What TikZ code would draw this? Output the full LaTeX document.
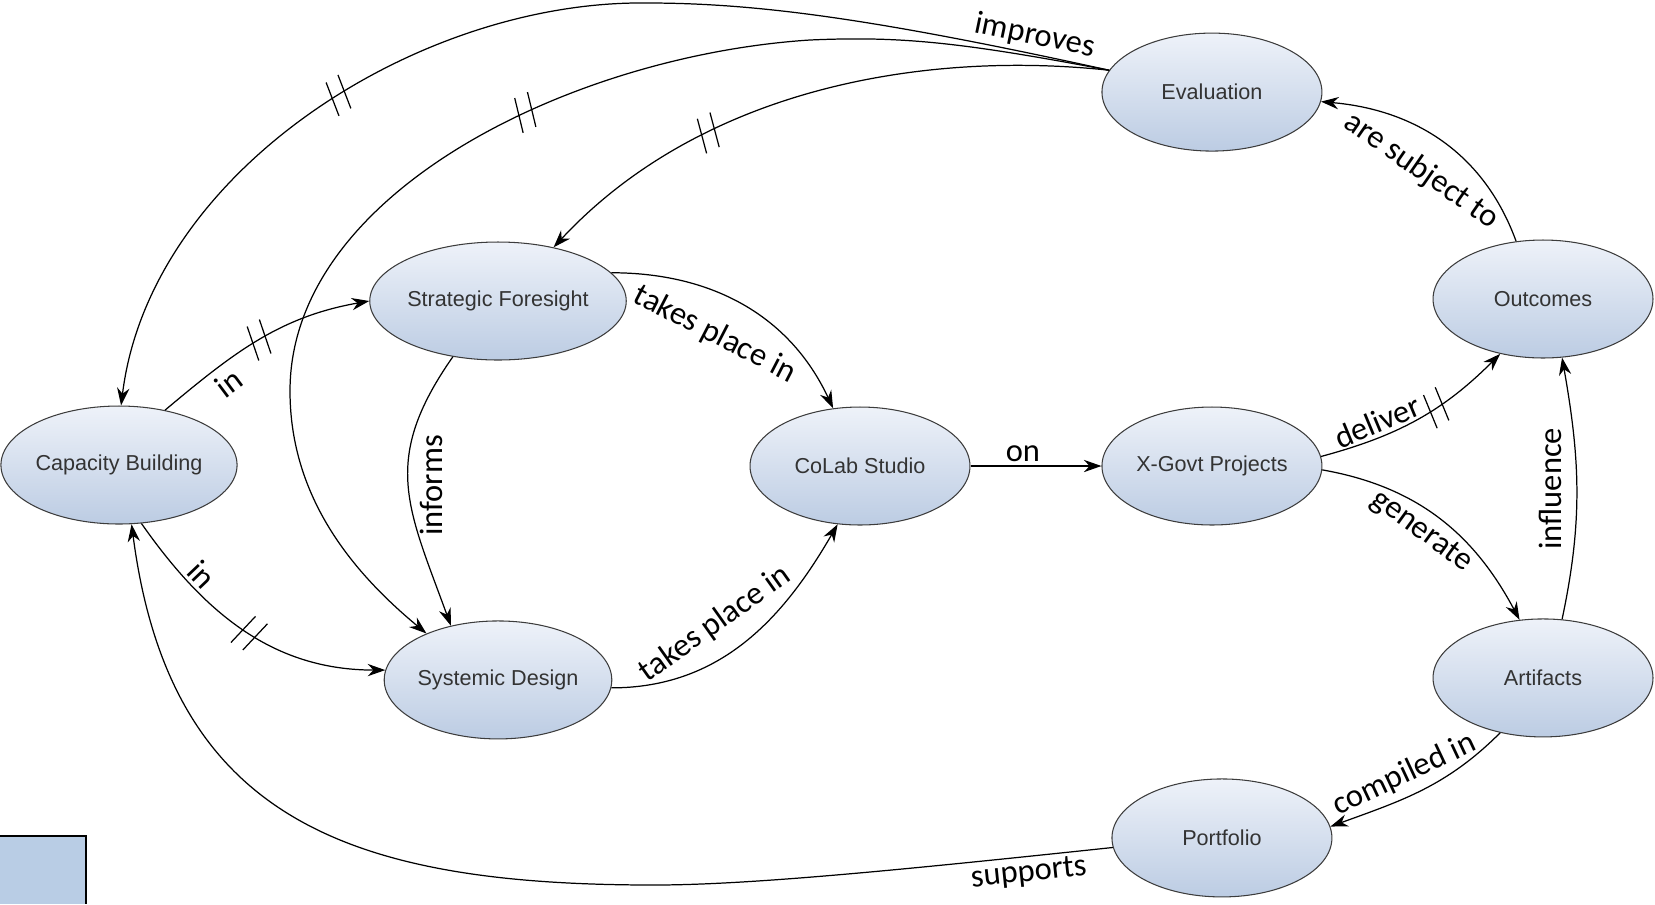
\documentclass[tikz,border=0pt]{standalone}
\usepackage{fontspec}
\setmainfont{Liberation Sans}
\newfontfamily\lblfont{Carlito}
\usetikzlibrary{shapes, arrows.meta, positioning, decorations.markings}
\definecolor{ellLight}{HTML}{EEF2F9}
\definecolor{ellDark}{HTML}{BCCCE3}
\definecolor{ellLine}{HTML}{3C3C3C}
\definecolor{ellText}{HTML}{333333}
\definecolor{boxFill}{HTML}{B9CDE5}
\newcommand{\relfont}{\lblfont\fontsize{18.5}{22}\selectfont}
\tikzstyle{topic} = [draw=ellLine, ellipse, top color=ellLight, bottom color=ellDark, minimum width=4.4cm, minimum height=2.36cm, inner sep=0pt, text=ellText, line width=0.6pt, font=\fontsize{12.3}{14}\selectfont]
\tikzstyle{rel} = [font=\relfont, inner sep=2pt]
\tikzstyle{link} = [->, line width=0.7pt]
\tikzset{ticked/.style={postaction={decorate}, decoration={markings, mark=at position #1 with {\draw[-] (-6pt,-10pt) -- (-2pt,10pt) (2pt,-10pt) -- (6pt,10pt);}}}}

\begin{document}
\begin{tikzpicture}[x=0.02cm, y=-0.02cm, >={Stealth[length=10pt, width=7pt]}]
  \useasboundingbox (0,0) rectangle (1655,904);
  \node [topic] (cap) at (119,465) {Capacity Building};
  \node [topic] (sf) at (498,301) {Strategic Foresight};
  \node [topic, below of=sf, node distance=7.58cm] (sd) {Systemic Design};
  \node [topic] (colab) at (860,466) {CoLab Studio};
  \node [topic, right of=colab, node distance=7.04cm] (xgov) {X-Govt Projects};
  \node [topic, above of=xgov, node distance=7.48cm] (eval) {Evaluation};
  \node [topic, below of=xgov, node distance=7.44cm, xshift=0.2cm] (port) {Portfolio};
  \node [topic] (out) at (1543,299) {Outcomes};
  \node [topic, below of=out, node distance=7.58cm] (art) {Artifacts};
  % left side
  \draw [link, ticked=.5] (cap.50) to[out=40, in=190] node [rel, pos=.27, sloped, below=2pt] {in} (sf.west);
  \draw [link, ticked=.52] (cap.-69) to[out=-55, in=180] node [rel, pos=.25, sloped, above] {in} (sd.175);
  \draw [link] (sf.-129) to[out=-125, in=110, looseness=1.2] node [rel, midway, rotate=90, anchor=north, inner sep=6pt] {informs} (sd.131);
  \draw [link] (sf.14) to[out=0, in=115] node [rel, pos=.45, sloped, below=12pt] {takes place in} (colab.115);
  \draw [link] (sd.-4) to[out=0, in=-120] node [rel, pos=.45, sloped, above=8pt] {takes place in} (colab.-111);
  \draw [link] (colab) -- node [rel, pos=.4, above] {on} (xgov);
  % right side
  \draw [link, ticked=.6] (xgov.5) to[out=15, in=-135] node [rel, pos=.3, sloped, above] {deliver} (out.-128);
  \draw [link] (xgov.-2) to[out=-10, in=118] node [rel, pos=.47, sloped, below=2pt] {generate} (art.112);
  \draw [link] (art.72) to[out=78, in=-80] node [rel, midway, rotate=90, anchor=south, inner sep=8pt] {influence} (out.-72);
  \draw [link] (out.115) to[out=110, in=-5] node [rel, midway, sloped, below=10pt] {are subject to} (eval.-5);
  \draw [link] (art.-128) to[out=-135, in=20] node [rel, pos=.55, sloped, above=2pt] {compiled in} (port.6);
  % long arcs
  \draw [link] (port.185) .. controls (900,870) and (750,885) .. (654,885) node [rel, pos=.14, sloped, below] {supports} .. controls (350,885) and (170,820) .. (cap.-78);
  \draw [link, ticked=.67] (eval.168) .. controls (880,20) and (760,3) .. (647,3) node [rel, pos=.12, sloped, above] {improves} .. controls (420,0) and (150,170) .. (cap.88);
  \draw [link, ticked=.47] (eval.168) .. controls (960,42) and (900,36) .. (810,40) .. controls (575,55) and (290,191) .. (290,391) .. controls (290,500) and (356,575) .. (sd.147);
  \draw [link, ticked=.68] (eval.168) .. controls (920,50) and (700,90) .. (sf.44);
  % corner box
  \fill [boxFill] (0,836) rectangle (86,904);
  \draw [line width=1.1pt] (0,836) -- (86,836) -- (86,904);
\end{tikzpicture}
\end{document}
